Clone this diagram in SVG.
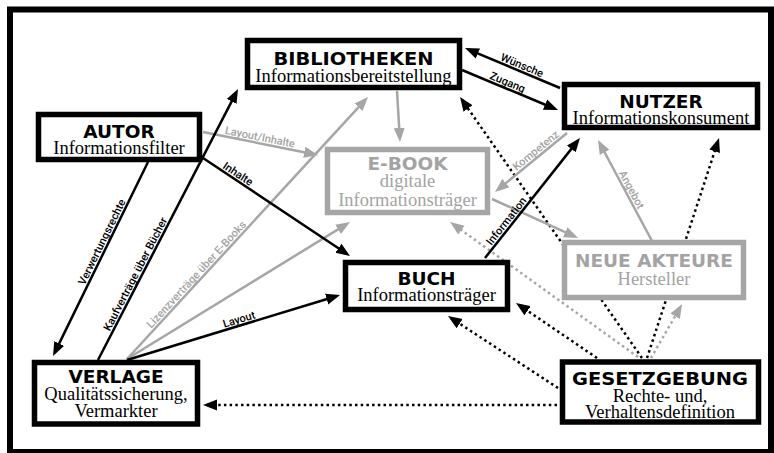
<svg xmlns="http://www.w3.org/2000/svg" width="774" height="453" viewBox="0 0 774 453">
<style>
.frame{fill:#fff;stroke:#000;stroke-width:6}
.nb{fill:#fff;stroke:#000;stroke-width:5.5}
.ng{fill:#fff;stroke:#a6a6a6;stroke-width:5.5}
.h{font-family:"DejaVu Sans",sans-serif;font-weight:bold;font-size:18.5px;text-anchor:middle}
.s{font-family:"Liberation Serif","Times New Roman","DejaVu Serif",serif;font-size:18.5px;text-anchor:middle}
.k{fill:#000}
.g{fill:#a3a3a3}
.cb{fill:none;stroke:#000;stroke-width:2.5;marker-end:url(#ab)}
.cg{fill:none;stroke:#a6a6a6;stroke-width:2.5;marker-end:url(#ag)}
.db{fill:none;stroke:#000;stroke-width:2.5;stroke-dasharray:2.5 3.2;marker-end:url(#ab)}
.dg{fill:none;stroke:#a6a6a6;stroke-width:2.5;stroke-dasharray:2.5 3.2;marker-end:url(#ag)}
.l{font-family:Roboto,"Liberation Sans",Arial,sans-serif;font-weight:500;font-size:11px;text-anchor:middle}
</style>
<defs>
<marker id="ab" viewBox="0 0 14 12" markerWidth="14" markerHeight="12" refX="10" refY="6" orient="auto" markerUnits="userSpaceOnUse"><path d="M0,0.5 L14,6 L0,11.5 z" fill="#000"/></marker>
<marker id="ag" viewBox="0 0 14 12" markerWidth="14" markerHeight="12" refX="10" refY="6" orient="auto" markerUnits="userSpaceOnUse"><path d="M0,0.5 L14,6 L0,11.5 z" fill="#a6a6a6"/></marker>
</defs>
<rect class="frame" x="10" y="9.5" width="761" height="442.5"/>
<g id="connectors">
<path class="db" d="M642,358 L462.3,100.3"/>
<path class="db" d="M647,358 L717.8,141.8"/>
<path class="db" d="M597,358 L519.3,305.2"/>
<path class="db" d="M558,388 L451.3,318.2"/>
<path class="db" d="M557,405 L207,405"/>
<path class="dg" d="M638,357 L453.3,224.3"/>
<path class="dg" d="M651,358 L680.1,307.5"/>
<path class="cg" d="M203,132 L314.1,154.2"/>
<path class="cg" d="M127,359 L365.3,99.9"/>
<path class="cg" d="M127,359 L346.6,224.1"/>
<path class="cg" d="M397,91 L399.8,138"/>
<path class="cg" d="M567,133 L498.1,189.5"/>
<path class="cg" d="M492,199 L574.4,236.3"/>
<path class="cg" d="M652,241 L599.9,143.5"/>
<path class="cb" d="M148,162 L54.8,352.4"/>
<path class="cb" d="M98,360 L236.2,92.6"/>
<path class="cb" d="M127,360 L336.2,296.2"/>
<path class="cb" d="M203,158 L346.7,253.8"/>
<path class="cb" d="M560,88 L468.7,49.6"/>
<path class="cb" d="M462,70 L554.3,108.5"/>
<path class="cb" d="M485,258 L577.5,141.1"/>
<text class="l k" transform="translate(107.5,244.6) rotate(-63.9)" y="-2.5">Verwertungsrechte</text>
<text class="l k" transform="translate(140.9,276.9) rotate(-62.7)" y="-2.5">Kaufverträge über Bücher</text>
<text class="l g" transform="translate(200.9,278.6) rotate(-47.4)" y="-2.5">Lizenzverträge über E-Books</text>
<text class="l k" transform="translate(240.8,325.3) rotate(-17)" y="-2.5">Layout</text>
<text class="l k" transform="translate(234.6,179.1) rotate(33.7)" y="-2.5">Inhalte</text>
<text class="l g" transform="translate(258.8,143.2) rotate(11.3)" y="-2.5">Layout/Inhalte</text>
<text class="l k" transform="translate(519.7,71) rotate(22.8)" y="-2.5">Wünsche</text>
<text class="l k" transform="translate(505.2,88) rotate(22.6)" y="-2.5">Zugang</text>
<text class="l g" transform="translate(539.8,155.3) rotate(-39.3)" y="-2.5">Kompetenz</text>
<text class="l k" transform="translate(511.2,224.9) rotate(-51.6)" y="-2.5">Information</text>
<text class="l g" transform="translate(626.1,192.6) rotate(61.9)" y="-2.5">Angebot</text>
</g>
<g id="bibliotheken">
<rect class="nb" x="247.5" y="40.5" width="212" height="47"/>
<text class="h k" x="353.5" y="64.5" textLength="160" lengthAdjust="spacingAndGlyphs">BIBLIOTHEKEN</text>
<text class="s k" x="353.5" y="82">Informationsbereitstellung</text>
</g>
<g id="nutzer">
<rect class="nb" x="564.5" y="84.5" width="193" height="43"/>
<text class="h k" x="661" y="107.5">NUTZER</text>
<text class="s k" x="661" y="124">Informationskonsument</text>
</g>
<g id="autor">
<rect class="nb" x="38.5" y="114.5" width="161" height="45"/>
<text class="h k" x="119" y="137.5">AUTOR</text>
<text class="s k" x="119" y="154">Informationsfilter</text>
</g>
<g id="ebook">
<rect class="ng" x="327.5" y="149.5" width="160" height="63"/>
<text class="h g" x="407.5" y="170">E-BOOK</text>
<text class="s g" x="407.5" y="187">digitale</text>
<text class="s g" x="407.5" y="206">Informationsträger</text>
</g>
<g id="buch">
<rect class="nb" x="345.5" y="262.5" width="162" height="47"/>
<text class="h k" x="426.5" y="284.5">BUCH</text>
<text class="s k" x="426.5" y="301">Informationsträger</text>
</g>
<g id="neue-akteure">
<rect class="ng" x="564.5" y="242.5" width="179" height="55"/>
<text class="h g" x="654" y="266.5">NEUE AKTEURE</text>
<text class="s g" x="654" y="285">Hersteller</text>
</g>
<g id="verlage">
<rect class="nb" x="34.5" y="362.5" width="163" height="61.5"/>
<text class="h k" x="116" y="382.5">VERLAGE</text>
<text class="s k" x="116" y="400">Qualitätssicherung,</text>
<text class="s k" x="116" y="416.5">Vermarkter</text>
</g>
<g id="gesetzgebung">
<rect class="nb" x="562.5" y="362" width="196" height="60"/>
<text class="h k" x="660" y="384.5" textLength="176" lengthAdjust="spacingAndGlyphs">GESETZGEBUNG</text>
<text class="s k" x="660" y="401.5">Rechte- und,</text>
<text class="s k" x="660" y="418">Verhaltensdefinition</text>
</g>
</svg>
